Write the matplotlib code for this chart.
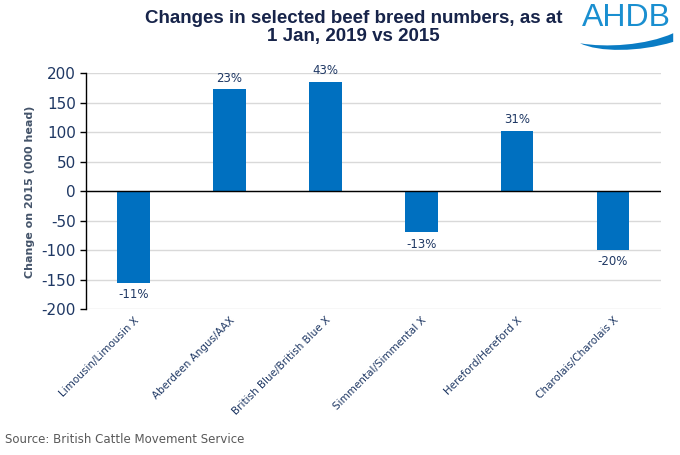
import matplotlib
matplotlib.use("Agg")
import matplotlib.pyplot as plt
from matplotlib.path import Path
from matplotlib.patches import PathPatch
import numpy as np

plt.rcParams["axes.unicode_minus"] = False

# data (000 head, change on 2015)
breeds = ["Limousin/Limousin X", "Aberdeen Angus/AAX", "British Blue/British Blue X",
          "Simmental/Simmental X", "Hereford/Hereford X", "Charolais/Charolais X"]
changes = [-155, 173, 186, -69, 103, -99]
pct_labels = ["-11%", "23%", "43%", "-13%", "31%", "-20%"]
yticks = [-200, -150, -100, -50, 0, 50, 100, 150, 200]

bar_col = "#0070C0"
navy = "#1F3864"
logo_col = "#1a8fd0"

fig = plt.figure(figsize=(6.8, 4.55), dpi=100)
ax = fig.add_axes([0.126, 0.320, 0.846, 0.519])

x = np.arange(len(breeds))
ax.bar(x, changes, width=0.34, color=bar_col, zorder=3)

for xi, v, lab in zip(x, changes, pct_labels):
    if v >= 0:
        ax.annotate(lab, (xi, v), xytext=(0, 3), textcoords="offset points",
                    ha="center", va="bottom", fontsize=8.5, color=navy)
    else:
        ax.annotate(lab, (xi, v), xytext=(0, -4), textcoords="offset points",
                    ha="center", va="top", fontsize=8.5, color=navy)

ax.set_xlim(-0.5, len(breeds) - 0.5)
ax.set_ylim(-200, 200)
ax.set_yticks(yticks)
ax.yaxis.grid(True, color="#d9d9d9", linewidth=1, zorder=0)
ax.axhline(0, color="black", linewidth=1, zorder=4)

for s in ["top", "right", "bottom"]:
    ax.spines[s].set_visible(False)
ax.spines["left"].set_color("black")
ax.spines["left"].set_linewidth(1)

ax.tick_params(axis="y", length=4, width=1, colors="black", labelcolor=navy, labelsize=11, pad=3)
ax.tick_params(axis="x", length=0, pad=4)
ax.set_xticks(x)
ax.set_xticklabels(breeds, rotation=45, ha="right", rotation_mode="anchor",
                   fontsize=7.5, color=navy)

ax.set_ylabel("Change on 2015 (000 head)", fontsize=8, fontweight="bold",
              color="#44546A", labelpad=5)

fig.text(0.520, 0.939, "Changes in selected beef breed numbers, as at\n1 Jan, 2019 vs 2015",
         ha="center", va="center", fontsize=13.5, fontweight="bold", color="#17244a",
         family=["Liberation Sans", "DejaVu Sans"], linespacing=1.1)

# AHDB logo
fig.text(0.921, 0.960, "AHDB", ha="center", va="center", fontsize=23, color=logo_col,
         family=["Liberation Sans", "DejaVu Sans"])
verts = [(0.853, 0.905), (0.880, 0.885), (0.940, 0.885), (0.990, 0.908),
         (0.990, 0.927), (0.950, 0.900), (0.890, 0.895), (0.853, 0.905)]
codes = [Path.MOVETO, Path.CURVE4, Path.CURVE4, Path.CURVE4,
         Path.LINETO, Path.CURVE4, Path.CURVE4, Path.CURVE4]
fig.patches.append(PathPatch(Path(verts, codes), transform=fig.transFigure,
                             facecolor="#0a7cc4", edgecolor="none"))

fig.text(0.007, 0.033, "Source: British Cattle Movement Service", ha="left", va="center",
         fontsize=8.5, color="#595959")

fig.savefig("out.png", dpi=100)
